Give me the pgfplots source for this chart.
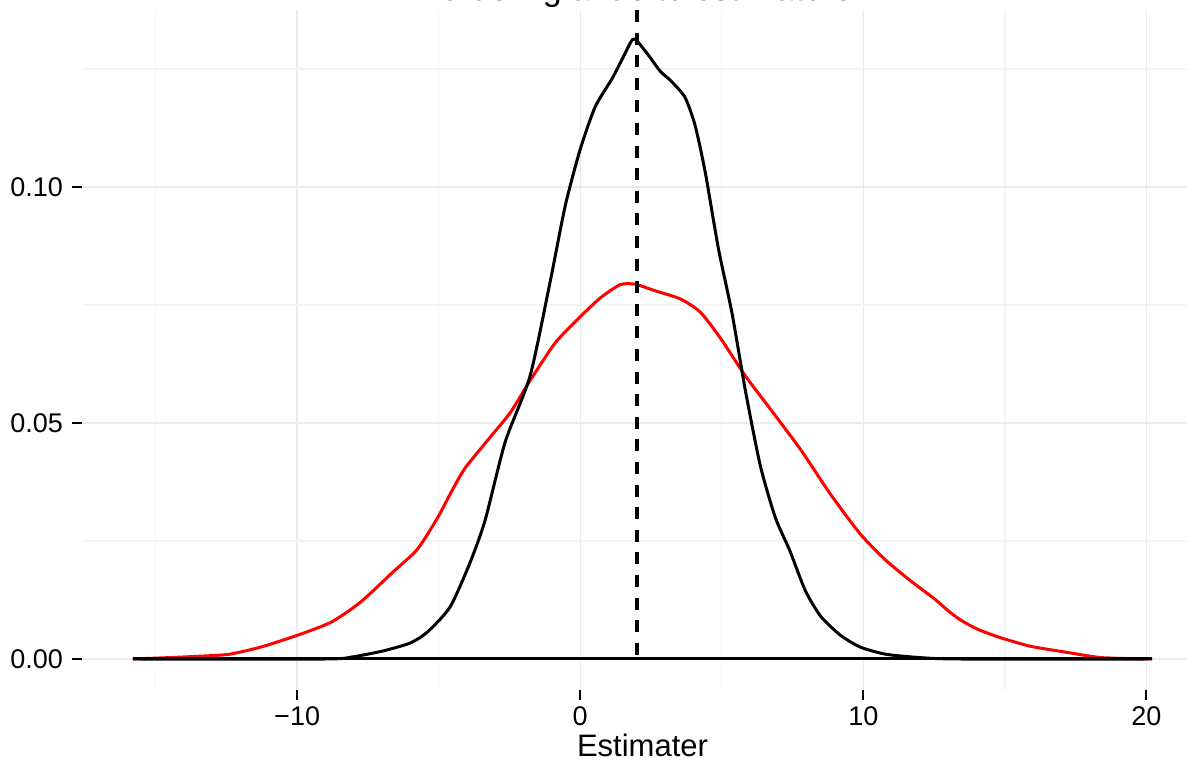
\documentclass[border=0pt]{standalone}
\usepackage{pgfplots}
\pgfplotsset{compat=1.18}
\usepackage{fontspec}
\setmainfont{Liberation Sans}
\begin{document}
\begin{tikzpicture}
\path[use as bounding box] (0pt,-381.5pt) rectangle (593.5pt,0pt);
\clip (0pt,-381.5pt) rectangle (593.5pt,0pt);
\begin{axis}[
  scale only axis, width=560.5pt, height=340pt,
  at={(41pt,-345pt)}, anchor=south west,
  xmin=-17.6, xmax=22.0, ymin=-0.00657, ymax=0.1375,
  axis line style={draw=none},
  xtick={-10,0,10,20}, xticklabels={−10,0,10,20},
  minor xtick={-15,-5,5,15},
  ytick={0,0.05,0.1}, yticklabels={0.00,0.05,0.10},
  minor ytick={0.025,0.075,0.125},
  grid=both,
  major grid style={draw=black!8, line width=0.7pt},
  minor grid style={draw=black!4, line width=0.7pt},
  tick style={black, line width=1pt},
  major tick length=5pt, minor tick length=0pt,
  tick align=outside,
  xtick pos=bottom, ytick pos=left,
  tick label style={font=\fontsize{13.5}{16}\selectfont},
  yticklabel style={xshift=-1pt},
  xlabel={Estimater},
  xlabel style={font=\fontsize{15.5}{18}\selectfont, yshift=3pt},
  clip=true,
]
\addplot[red, line width=1.5pt] coordinates {(-15.8,0) (20.1,0)};
\addplot[red, line width=1.5pt, smooth, tension=0.4] coordinates {
(-15.8,0) (-14.5,0.0003) (-13.4,0.0006) (-12.4,0.0010) (-11.3,0.0025) (-10.0,0.0050)
(-8.8,0.0078) (-7.77,0.0120) (-6.6,0.0185) (-5.76,0.0232) (-5.05,0.0298) (-4.5,0.0360) (-4.06,0.0405)
(-3.18,0.0470) (-2.47,0.0522) (-1.77,0.0590) (-0.88,0.0670) (0,0.0725) (0.71,0.0765)
(1.41,0.0793) (1.94,0.0794) (2.65,0.0780) (3.53,0.0763) (4.24,0.0735) (4.95,0.0680)
(5.83,0.0600) (6.71,0.0530) (7.77,0.0445) (8.83,0.0350) (9.89,0.0265) (10.78,0.0210)
(11.66,0.0166) (12.5,0.0128) (13.0,0.0102) (13.4,0.0084) (14.0,0.0064) (14.8,0.0046)
(15.9,0.0027) (17.1,0.0015) (18.4,0.0003) (20.1,0)
};
\addplot[black, line width=1.5pt] coordinates {(-15.8,0) (20.2,0)};
\addplot[black, line width=1.5pt, smooth, tension=0.4] coordinates {
(-15.8,0) (-9.0,0) (-8.1,0.0004) (-7.7,0.0008) (-6.9,0.0018) (-6.0,0.0034) (-5.4,0.0057)
(-4.6,0.0110) (-3.9,0.0203) (-3.36,0.0294) (-2.65,0.0460) (-1.77,0.0600) (-1.06,0.0800)
(-0.53,0.0960) (0,0.1080) (0.53,0.1170) (1.13,0.1230) (1.6,0.1285) (1.84,0.1312)
(2.0,0.1310) (2.4,0.1280) (2.83,0.1245) (3.2,0.1225) (3.7,0.1190) (4.06,0.1130)
(4.42,0.1030) (4.88,0.0870) (5.37,0.0730) (5.83,0.0570) (6.36,0.0410) (6.89,0.0300)
(7.4,0.0230) (7.95,0.0145) (8.5,0.0090) (9.2,0.0050) (9.9,0.0025) (10.8,0.0010)
(12.0,0.0003) (13.4,0) (20.2,0)
};
\addplot[black, line width=2pt, dash pattern=on 6pt off 5.3pt] coordinates {(2,0.1375) (2,0)};
\end{axis}
\node[anchor=base, font=\fontsize{17}{20}\selectfont] at (321pt,-0.5pt) {Fordeling af de to estimatorer};
\end{tikzpicture}
\end{document}
